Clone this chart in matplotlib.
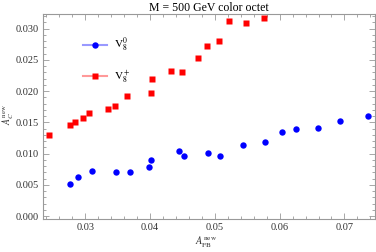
import numpy as np
import matplotlib
matplotlib.use('Agg')
from matplotlib import pyplot as plt
from matplotlib.lines import Line2D
from matplotlib.ticker import MultipleLocator, FormatStrFormatter

plt.rcParams['font.family'] = 'Liberation Serif'
plt.rcParams['mathtext.fontset'] = 'stix'

# V8^0 (blue circles)
afb_v0 = [0.02759, 0.02887, 0.03108, 0.03469, 0.03694, 0.03983, 0.04019, 0.04446,
          0.04528, 0.04898, 0.05083, 0.05434, 0.05778, 0.06040, 0.06256, 0.06591,
          0.06935, 0.07363]
ac_v0 = [0.00510, 0.00622, 0.00718, 0.00713, 0.00713, 0.00793, 0.00900, 0.01043,
         0.00963, 0.01016, 0.00968, 0.01144, 0.01181, 0.01340, 0.01394, 0.01410,
         0.01527, 0.01596]

# V8^+ (red squares)
afb_vp = [0.02440, 0.02769, 0.02836, 0.02970, 0.03062, 0.03355, 0.03463, 0.03639,
          0.04014, 0.04029, 0.04318, 0.04488, 0.04744, 0.04883, 0.05059, 0.05213,
          0.05480, 0.05758]
ac_vp = [0.01304, 0.01463, 0.01500, 0.01570, 0.01644, 0.01714, 0.01766, 0.01915,
         0.01963, 0.02192, 0.02314, 0.02298, 0.02527, 0.02713, 0.02808, 0.03112,
         0.03080, 0.03171]

fig = plt.figure(figsize=(3.76, 2.52), dpi=100)
ax = fig.add_axes([0.1144, 0.132, 0.8826, 0.812])

ax.plot(afb_v0, ac_v0, 'o', color='#0000ff', ms=4.6, mec='none')
ax.plot(afb_vp, ac_vp, 's', color='#ff0000', ms=4.2, mec='none')

ax.set_xlim(0.02347, 0.0747)
ax.set_ylim(-0.0004, 0.0323)

ax.xaxis.set_major_locator(MultipleLocator(0.01))
ax.xaxis.set_minor_locator(MultipleLocator(0.002))
ax.yaxis.set_major_locator(MultipleLocator(0.005))
ax.yaxis.set_minor_locator(MultipleLocator(0.001))
ax.xaxis.set_major_formatter(FormatStrFormatter('%.2f'))
ax.yaxis.set_major_formatter(FormatStrFormatter('%.3f'))

frame = '#999999'
for s in ax.spines.values():
    s.set_color(frame)
    s.set_linewidth(0.8)
ax.tick_params(which='both', direction='in', top=True, right=True, color=frame,
               labelsize=7.5, labelcolor='#333333', width=0.6)
ax.tick_params(which='major', length=4, pad=3)
ax.tick_params(which='minor', length=2)

ax.set_title('M = 500 GeV color octet', fontsize=8.5, pad=2)
ax.set_xlabel(r'$A_{\mathrm{FB}}^{\mathrm{new}}$', fontsize=7.5, color='#333333')
ax.xaxis.set_label_coords(0.49, -0.11, transform=ax.transAxes)
ax.xaxis.label.set_va('center')
ax.set_ylabel(r'$A_{C}^{\mathrm{new}}$', fontsize=7, color='#333333')
ax.yaxis.set_label_coords(-0.108, 0.507, transform=ax.transAxes)
ax.yaxis.label.set_va('center')

handles = [
    Line2D([], [], color='#9999ff', lw=1.5, marker='o', ms=4.6,
           mfc='#0000ff', mec='none'),
    Line2D([], [], color='#ff9999', lw=1.5, marker='s', ms=4.2,
           mfc='#ff0000', mec='none'),
]
ax.legend(handles, [r'$\mathrm{V}_8^0$', r'$\mathrm{V}_8^+$'], loc='upper left',
          bbox_to_anchor=(0.09, 0.94), frameon=False, fontsize=8,
          handlelength=2.2, labelspacing=1.25, handletextpad=0.6)

fig.savefig('out.png', dpi=100)
